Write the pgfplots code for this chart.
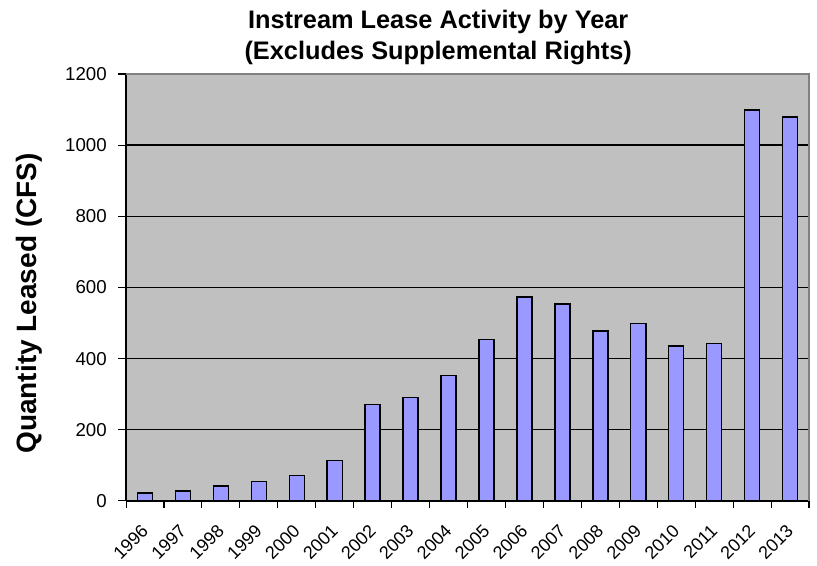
\documentclass[border=0pt]{standalone}
\usepackage{fontspec}
\setmainfont{Liberation Sans}
\usepackage{pgfplots}
\pgfplotsset{compat=1.18}
\definecolor{bgray}{HTML}{C0C0C0}
\definecolor{barblue}{HTML}{9999FF}
\begin{document}
\begin{tikzpicture}
\begin{axis}[
  scale only axis,
  width=512pt, height=320pt,
  xmin=-0.5, xmax=17.5,
  ymin=0, ymax=1200,
  ytick={0,200,...,1200},
  xtick={0,...,17},
  xticklabels={1996,1997,1998,1999,2000,2001,2002,2003,2004,2005,2006,2007,2008,2009,2010,2011,2012,2013},
  minor xtick={-0.5,0.5,...,17.5},
  major x tick style={draw=none},
  minor tick length=5pt,
  major tick length=6pt,
  tick align=outside,
  axis x line*=bottom, axis y line*=left,
  axis line style={black, line width=1pt},
  x axis line style={-}, y axis line style={-},
  tick style={black, line width=0.8pt},
  ymajorgrids,
  grid style={black, line width=1.1pt},
  axis background/.style={fill=bgray},
  /pgf/number format/assume math mode=true,
  /pgf/number format/set thousands separator={},
  yticklabel style={font=\fontsize{14}{16}\selectfont, xshift=-5pt},
  xticklabel style={font=\fontsize{13.5}{15}\selectfont, xshift=-3.5pt, yshift=-9pt, rotate=45, anchor=north east, inner sep=1pt},
  ylabel={\textbf{Quantity Leased (CFS)}},
  ylabel style={font=\fontsize{21}{23}\selectfont, yshift=10pt, xshift=-12pt},
  title={\textbf{Instream Lease Activity by Year}\\\textbf{(Excludes Supplemental Rights)}},
  title style={font=\fontsize{19}{23.5}\selectfont, align=center, yshift=-3pt, xshift=-22pt},
  clip=false,
]
\addplot[ybar, bar width=11.25pt, fill=barblue, draw=black, line width=1.1pt] coordinates {
(0,22) (1,28) (2,42) (3,55) (4,72) (5,113) (6,271) (7,291) (8,352) (9,453)
(10,573) (11,553) (12,477) (13,498) (14,435) (15,442) (16,1099) (17,1079)
};
\draw[gray, line width=1pt] (rel axis cs:0,1) -- (rel axis cs:1,1) -- (rel axis cs:1,0);
\path (rel axis cs:1,1) ++(6pt,55.5pt);
\path (rel axis cs:0,0) ++(-94.5pt,-48.7pt);
\end{axis}
\end{tikzpicture}
\end{document}
